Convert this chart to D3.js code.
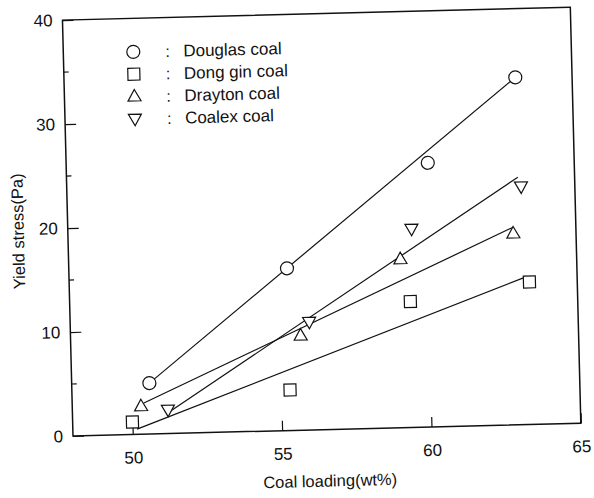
<!DOCTYPE html>
<html>
<head>
<meta charset="utf-8">
<script src="https://cdn.jsdelivr.net/npm/d3@7"></script>
<style>
    html, body { margin: 0; padding: 0; background: #fff; }
    svg { display: block; }
    text { font-family: 'Liberation Sans', Arial, sans-serif; fill: #111; }
</style>
</head>
<body>
<svg width="594" height="498"></svg>
<script>
(function () {

    // series
    var seriesNames = ['Douglas coal', 'Dong gin coal', 'Drayton coal', 'Coalex coal'];
    var seriesShapes = ['circle', 'square', 'triangle', 'triangleDown'];

    var douglasX = [50.6, 55.3, 60.1, 63.1];
    var douglasY = [4.9, 15.6, 25.4, 33.4];
    var dongginX = [50.0, 55.3, 59.4, 63.4];
    var dongginY = [1.2, 3.9, 12.1, 13.7];
    var draytonX = [50.3, 55.7, 59.1, 62.9];
    var draytonY = [2.7, 9.1, 16.2, 18.4];
    var coalexX = [51.2, 56.0, 59.5, 63.2];
    var coalexY = [2.3, 10.4, 19.1, 22.9];

    // fitted lines: [x0, y0, x1, y1]
    var douglasFit = [50.6, 4.9, 63.1, 33.4];
    var dongginFit = [50.15, 0.5, 63.2, 14.1];
    var draytonFit = [50.4, 3.0, 62.9, 19.0];
    var coalexFit = [51.2, 2.0, 63.1, 23.8];

    var xTicks = [50, 55, 60, 65];
    var yTicks = [0, 10, 20, 30, 40];
    var yMinorTicks = [5, 15, 25, 35];

    var svg = d3.select('svg');

    var left = 73, right = 581, top = 20, bottom = 436;

    var x = d3.scaleLinear().domain([48, 65]).range([left, right]);
    var y = d3.scaleLinear().domain([0, 40]).range([bottom, top]);

    // the scanned page sits a little askew
    var g = svg.append('g')
        .attr('transform', 'rotate(-1.45,' + left + ',' + bottom + ')');

    var series = [
        { name: seriesNames[0], shape: seriesShapes[0], xs: douglasX, ys: douglasY, fit: douglasFit },
        { name: seriesNames[1], shape: seriesShapes[1], xs: dongginX, ys: dongginY, fit: dongginFit },
        { name: seriesNames[2], shape: seriesShapes[2], xs: draytonX, ys: draytonY, fit: draytonFit },
        { name: seriesNames[3], shape: seriesShapes[3], xs: coalexX, ys: coalexY, fit: coalexFit }
    ];

    function symbolPath(shape) {
        if (shape === 'circle') {
            return 'M6.5,0A6.5,6.5 0 1,1 -6.5,0A6.5,6.5 0 1,1 6.5,0Z';
        } else if (shape === 'square') {
            return 'M-6,-6H6V6H-6Z';
        } else if (shape === 'triangle') {
            return 'M0,-7L6.5,4.5H-6.5Z';
        }
        return 'M0,7L6.5,-4.5H-6.5Z';
    }

    // frame
    g.append('rect')
        .attr('x', left)
        .attr('y', top)
        .attr('width', right - left)
        .attr('height', bottom - top)
        .attr('fill', 'none')
        .attr('stroke', '#111')
        .attr('stroke-width', 1.5);

    // axes, ticks inward
    var xAxis = d3.axisBottom(x).tickValues(xTicks).tickSizeInner(-10).tickSizeOuter(0).tickPadding(17);
    var yAxis = d3.axisLeft(y).tickValues(yTicks).tickSizeInner(-11).tickSizeOuter(0).tickPadding(10);

    g.append('g')
        .attr('transform', 'translate(0,' + bottom + ')')
        .call(xAxis)
        .call(styleAxis);

    g.append('g')
        .attr('transform', 'translate(' + left + ',0)')
        .call(yAxis)
        .call(styleAxis);

    g.append('g')
        .attr('transform', 'translate(' + left + ',0)')
        .selectAll('line')
        .data(yMinorTicks)
        .enter().append('line')
        .attr('x1', 0)
        .attr('x2', 5)
        .attr('y1', function(d) { return y(d); })
        .attr('y2', function(d) { return y(d); })
        .attr('stroke', '#111')
        .attr('stroke-width', 1.2);

    function styleAxis(sel) {
        sel.select('.domain').remove();
        sel.selectAll('line').attr('stroke', '#111').attr('stroke-width', 1.2);
        sel.selectAll('text')
            .attr('font-size', 17)
            .attr('fill', '#111')
            .style('font-family', "'Liberation Sans', Arial, sans-serif");
    }

    // axis titles
    g.append('text')
        .attr('x', 329)
        .attr('y', 493)
        .attr('text-anchor', 'middle')
        .attr('font-size', 16.5)
        .text('Coal loading(wt%)');

    g.append('text')
        .attr('transform', 'translate(29,230) rotate(-90)')
        .attr('text-anchor', 'middle')
        .attr('font-size', 16.5)
        .text('Yield stress(Pa)');

    // fit lines
    g.append('g')
        .selectAll('line')
        .data(series)
        .enter().append('line')
        .attr('x1', function(d) { return x(d.fit[0]); })
        .attr('y1', function(d) { return y(d.fit[1]); })
        .attr('x2', function(d) { return x(d.fit[2]); })
        .attr('y2', function(d) { return y(d.fit[3]); })
        .attr('stroke', '#111')
        .attr('stroke-width', 1.2);

    // markers
    series.forEach(function(s) {
        g.append('g')
            .selectAll('path')
            .data(s.xs.map(function(v, i) { return [v, s.ys[i]]; }))
            .enter().append('path')
            .attr('d', symbolPath(s.shape))
            .attr('transform', function(d) { return 'translate(' + x(d[0]) + ',' + y(d[1]) + ')'; })
            .attr('fill', '#fff')
            .attr('stroke', '#111')
            .attr('stroke-width', 1.2);
    });

    // legend
    var legend = g.append('g')
        .selectAll('g')
        .data(series)
        .enter().append('g')
        .attr('transform', function(d, i) { return 'translate(143,' + (53.5 + i * 22.3) + ')'; });

    legend.append('path')
        .attr('d', function(d) { return symbolPath(d.shape); })
        .attr('fill', '#fff')
        .attr('stroke', '#111')
        .attr('stroke-width', 1.2);

    legend.append('text')
        .attr('x', 32)
        .attr('y', 6)
        .attr('font-size', 16)
        .text(':');

    legend.append('text')
        .attr('x', 50)
        .attr('y', 6)
        .attr('font-size', 17)
        .text(function(d) { return d.name; });

})();
</script>
</body>
</html>
